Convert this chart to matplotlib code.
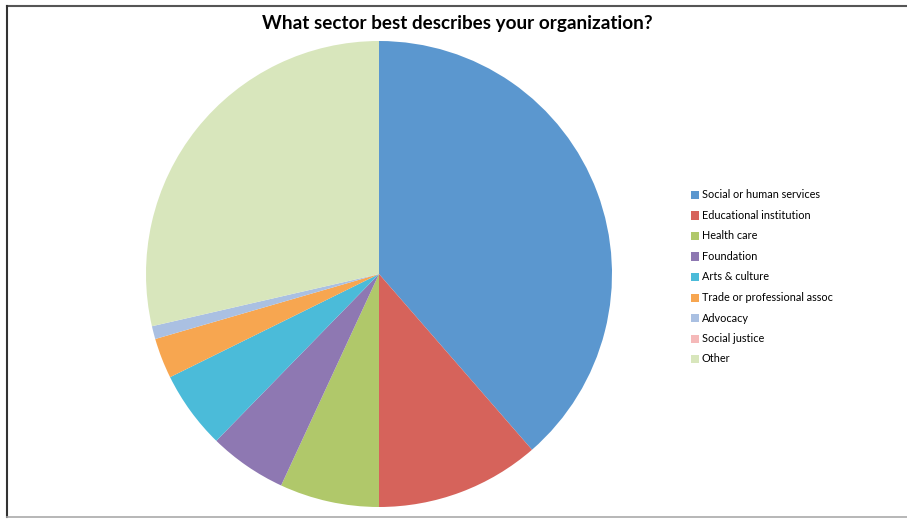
import matplotlib.pyplot as plt
from matplotlib.patches import Rectangle
from matplotlib.lines import Line2D

# survey answers (share of respondents, %)
sectors = ['Social or human services', 'Educational institution', 'Health care',
           'Foundation', 'Arts & culture', 'Trade or professional assoc',
           'Advocacy', 'Social justice', 'Other']
shares = [38.6, 11.4, 6.9, 5.4, 5.4, 2.8, 0.9, 0.0, 28.6]
colors = ['#5B97CF', '#D6635B', '#B0C86A', '#8E78B2', '#4BBBD9', '#F7A650',
          '#AAC0E2', '#F5B9B9', '#D8E6BC']

W, H = 907, 519
fig = plt.figure(figsize=(W / 100, H / 100), dpi=100)
plt.rcParams['font.family'] = ['Lato', 'DejaVu Sans']

# pie placed by pixel centre / radius
cx, cy, r = 379, 274, 233
ax = fig.add_axes([(cx - r) / W, (H - cy - r) / H, 2 * r / W, 2 * r / H])
ax.pie(shares, colors=colors, startangle=90, counterclock=False, radius=1,
       wedgeprops={'linewidth': 0})
ax.set_xlim(-1, 1)
ax.set_ylim(-1, 1)
ax.set_aspect('equal')
ax.axis('off')

fig.text(457 / W, 1 - 23 / H, 'What sector best describes your organization?',
         ha='center', va='center', fontsize=13.6, fontweight='bold')

# hand-made legend
y0, dy = 195, 20.5
for i, (lab, col) in enumerate(zip(sectors, colors)):
    y = y0 + i * dy
    fig.patches.append(Rectangle((691 / W, 1 - (y + 4) / H), 8 / W, 8 / H,
                                 transform=fig.transFigure, facecolor=col,
                                 edgecolor='none'))
    fig.text(702 / W, 1 - y / H, lab, ha='left', va='center', fontsize=7.8)

# chart frame
fig.lines.append(Line2D([7 / W, 1], [1 - 6 / H, 1 - 6 / H], transform=fig.transFigure,
                        color='#555555', linewidth=1.5))
fig.lines.append(Line2D([7 / W, 7 / W], [1 - 6 / H, 1 - 517 / H], transform=fig.transFigure,
                        color='#333333', linewidth=1.5))
fig.lines.append(Line2D([7 / W, 1], [1 - 517 / H, 1 - 517 / H], transform=fig.transFigure,
                        color='#AAAAAA', linewidth=1.2))

fig.savefig('out.png', dpi=100)
